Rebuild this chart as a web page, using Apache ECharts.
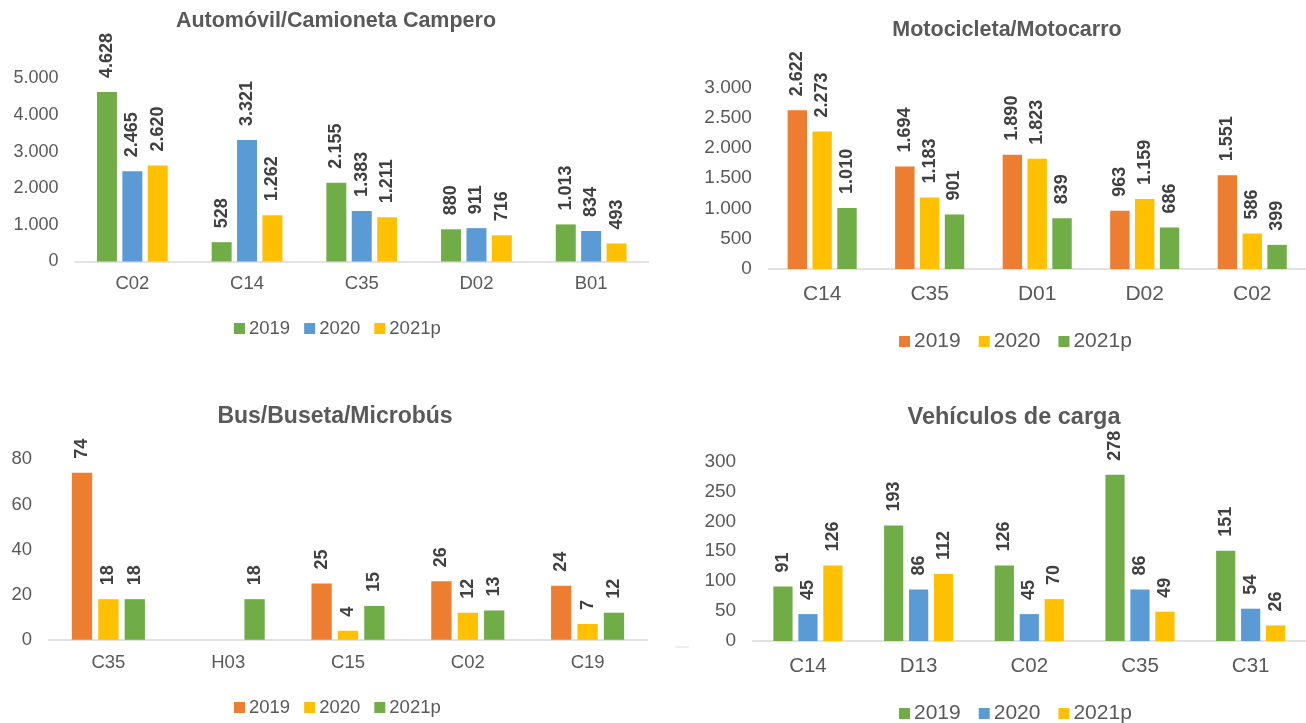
<!DOCTYPE html>
<html>
<head>
<meta charset="utf-8">
<script src="https://cdn.jsdelivr.net/npm/echarts@6/dist/echarts.min.js"></script>
<style>
html,body{margin:0;padding:0;background:#fff;width:1306px;height:723px;overflow:hidden;}
.c{position:absolute;overflow:hidden;}
</style>
</head>
<body>
<div id="c1" class="c" style="left:0;top:0;width:653px;height:361px"></div>
<div id="c2" class="c" style="left:653px;top:0;width:653px;height:361px"></div>
<div id="c3" class="c" style="left:0;top:361px;width:653px;height:362px"></div>
<div id="c4" class="c" style="left:653px;top:361px;width:653px;height:362px"></div>
<script>
// ---- Data ----
const seriesNames = ['2019', '2020', '2021p'];

const autoTitle = 'Automóvil/Camioneta Campero';
const autoCats = ['C02', 'C14', 'C35', 'D02', 'B01'];
const auto2019 = [4628, 528, 2155, 880, 1013];
const auto2020 = [2465, 3321, 1383, 911, 834];
const auto2021 = [2620, 1262, 1211, 716, 493];
const autoTicks = [0, 1000, 2000, 3000, 4000, 5000];

const motoTitle = 'Motocicleta/Motocarro';
const motoCats = ['C14', 'C35', 'D01', 'D02', 'C02'];
const moto2019 = [2622, 1694, 1890, 963, 1551];
const moto2020 = [2273, 1183, 1823, 1159, 586];
const moto2021 = [1010, 901, 839, 686, 399];
const motoTicks = [0, 500, 1000, 1500, 2000, 2500, 3000];

const busTitle = 'Bus/Buseta/Microbús';
const busCats = ['C35', 'H03', 'C15', 'C02', 'C19'];
const bus2019 = [74, null, 25, 26, 24];
const bus2020 = [18, null, 4, 12, 7];
const bus2021 = [18, 18, 15, 13, 12];
const busTicks = [0, 20, 40, 60, 80];

const cargaTitle = 'Vehículos de carga';
const cargaCats = ['C14', 'D13', 'C02', 'C35', 'C31'];
const carga2019 = [91, 193, 126, 278, 151];
const carga2020 = [45, 86, 45, 86, 54];
const carga2021 = [126, 112, 70, 49, 26];
const cargaTicks = [0, 50, 100, 150, 200, 250, 300];

// ---- Styles ----
const GREEN = '#70AD47', BLUE = '#5B9BD5', YELLOW = '#FFC000', ORANGE = '#ED7D31';
const FONT = 'Liberation Sans, Arial, sans-serif';
const GRAY = '#595959', DARK = '#404040';

function fmt(v) {
  return String(v).replace(/\B(?=(\d{3})+(?!\d))/g, '.');
}

function build(cfg) {
  const ticks = cfg.ticks;
  return {
    animation: false,
    textStyle: { fontFamily: FONT },
    color: cfg.colors,
    title: {
      text: cfg.title,
      left: cfg.titleX, top: cfg.titleY, textAlign: 'center', padding: 0,
      textStyle: { fontFamily: FONT, fontSize: cfg.titleSize, fontWeight: 'bold', color: GRAY }
    },
    legend: {
      data: seriesNames,
      left: cfg.legendX, top: cfg.legendY, padding: 0,
      itemWidth: 11, itemHeight: 11, itemGap: cfg.legendGap,
      icon: 'rect',
      textStyle: { fontFamily: FONT, fontSize: cfg.legendSize, color: GRAY, padding: [0, 0, 0, -1] }
    },
    grid: { left: cfg.grid[0], right: cfg.grid[1], top: cfg.grid[2], bottom: cfg.grid[3], containLabel: false },
    xAxis: {
      type: 'category', data: cfg.cats,
      axisLine: { lineStyle: { color: '#D9D9D9', width: 1.5 } },
      axisTick: { show: false },
      axisLabel: { fontFamily: FONT, fontSize: cfg.xSize, color: GRAY, margin: cfg.xMargin }
    },
    yAxis: {
      type: 'value', min: ticks[0], max: ticks[ticks.length - 1], interval: ticks[1] - ticks[0],
      axisLine: { show: false }, axisTick: { show: false }, splitLine: { show: false },
      axisLabel: { fontFamily: FONT, fontSize: cfg.ySize, color: GRAY, margin: 16.5, formatter: v => fmt(v) }
    },
    series: cfg.data.map((d, i) => ({
      name: seriesNames[i], type: 'bar', data: d,
      barWidth: cfg.barWidth, barGap: cfg.barGap,
      itemStyle: { color: cfg.colors[i] },
      label: {
        show: true, position: 'top', distance: 14, rotate: 90, align: 'left', verticalAlign: 'middle',
        fontFamily: FONT, fontSize: 18, fontWeight: 'bold', color: DARK,
        formatter: p => fmt(p.value)
      }
    })),
    graphic: cfg.graphic || []
  };
}

const charts = [
  { el: 'c1', title: autoTitle, cats: autoCats, data: [auto2019, auto2020, auto2021], ticks: autoTicks,
    colors: [GREEN, BLUE, YELLOW], titleX: 336, titleY: 10, titleSize: 21.5,
    legendX: 234, legendY: 319, legendGap: 14, legendSize: 18.5,
    grid: [75, 4.5, 78.5, 99.5], xSize: 18.5, ySize: 18, xMargin: 13, barWidth: 20, barGap: '27%' },
  { el: 'c2', title: motoTitle, cats: motoCats, data: [moto2019, moto2020, moto2021], ticks: motoTicks,
    colors: [ORANGE, YELLOW, GREEN], titleX: 354, titleY: 19, titleSize: 21.5,
    legendX: 246, legendY: 331, legendGap: 18, legendSize: 21,
    grid: [115.4, -5.9, 87.5, 92], xSize: 21, ySize: 19, xMargin: 14.5, barWidth: 19.4, barGap: '28%' },
  { el: 'c3', title: busTitle, cats: busCats, data: [bus2019, bus2020, bus2021], ticks: busTicks,
    colors: [ORANGE, YELLOW, GREEN], titleX: 335, titleY: 44, titleSize: 23,
    legendX: 234, legendY: 337, legendGap: 14, legendSize: 18.5,
    grid: [48.5, 5.5, 98.3, 83.2], xSize: 18.5, ySize: 18.5, xMargin: 14, barWidth: 20.3, barGap: '30%' },
  { el: 'c4', title: cargaTitle, cats: cargaCats, data: [carga2019, carga2020, carga2021], ticks: cargaTicks,
    colors: [GREEN, BLUE, YELLOW], titleX: 361, titleY: 45, titleSize: 23.5,
    legendX: 246, legendY: 342, legendGap: 18, legendSize: 21,
    grid: [99.6, -4.6, 100.5, 82], xSize: 20.5, ySize: 19, xMargin: 15, barWidth: 19.2, barGap: '30%',
    graphic: [{ type: 'rect', left: 22, top: 285, shape: { width: 14, height: 2 }, style: { fill: '#EEEEEE' } }] }
];

charts.forEach(c => {
  const inst = echarts.init(document.getElementById(c.el), null, { renderer: 'canvas' });
  inst.setOption(build(c));
});
</script>
</body>
</html>
